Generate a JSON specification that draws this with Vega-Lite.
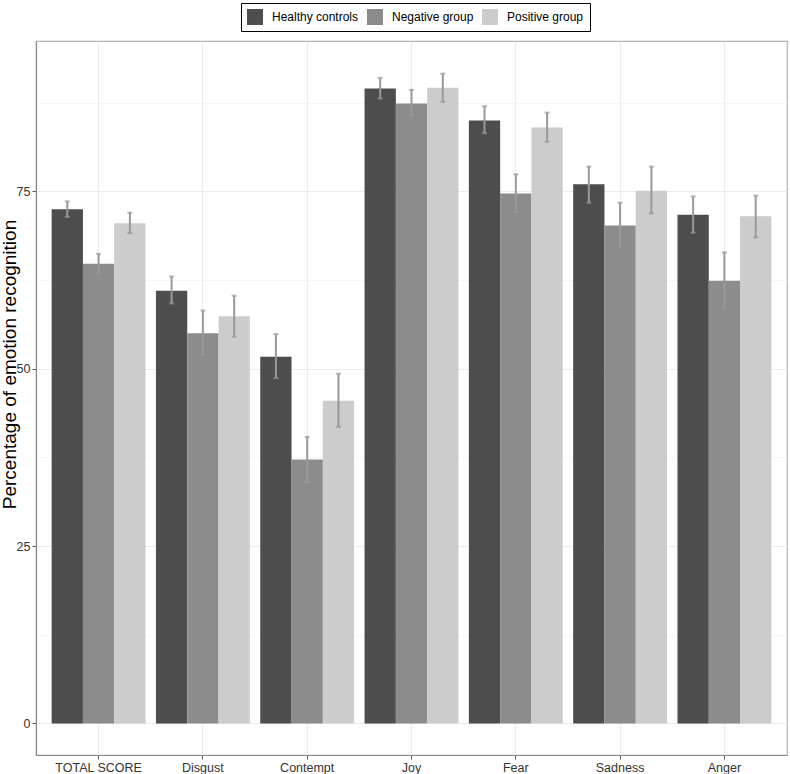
{
  "$schema": "https://vega.github.io/schema/vega-lite/v6.json",
  "width": 751,
  "height": 714,
  "autosize": {"type": "none"},
  "padding": {"left": 36, "top": 41, "right": 3, "bottom": 19},
  "background": "white",
  "config": {
    "font": "Liberation Sans",
    "view": {"stroke": "#b3b3b3", "strokeWidth": 1.2}
  },
  "data": {
    "values": [
      {"emotion": "TOTAL SCORE", "group": "Healthy controls", "mean": 72.5, "lo": 71.4, "hi": 73.6},
      {"emotion": "TOTAL SCORE", "group": "Negative group", "mean": 64.8, "lo": 63.4, "hi": 66.2},
      {"emotion": "TOTAL SCORE", "group": "Positive group", "mean": 70.5, "lo": 69.1, "hi": 72.0},
      {"emotion": "Disgust", "group": "Healthy controls", "mean": 61.0, "lo": 59.2, "hi": 63.0},
      {"emotion": "Disgust", "group": "Negative group", "mean": 55.0, "lo": 51.9, "hi": 58.2},
      {"emotion": "Disgust", "group": "Positive group", "mean": 57.4, "lo": 54.5, "hi": 60.3},
      {"emotion": "Contempt", "group": "Healthy controls", "mean": 51.7, "lo": 48.7, "hi": 54.9},
      {"emotion": "Contempt", "group": "Negative group", "mean": 37.2, "lo": 34.0, "hi": 40.4},
      {"emotion": "Contempt", "group": "Positive group", "mean": 45.5, "lo": 41.8, "hi": 49.3},
      {"emotion": "Joy", "group": "Healthy controls", "mean": 89.5, "lo": 88.1, "hi": 91.0},
      {"emotion": "Joy", "group": "Negative group", "mean": 87.4, "lo": 85.7, "hi": 89.3},
      {"emotion": "Joy", "group": "Positive group", "mean": 89.6, "lo": 87.6, "hi": 91.6},
      {"emotion": "Fear", "group": "Healthy controls", "mean": 85.0, "lo": 83.2, "hi": 87.0},
      {"emotion": "Fear", "group": "Negative group", "mean": 74.7, "lo": 72.1, "hi": 77.4},
      {"emotion": "Fear", "group": "Positive group", "mean": 84.0, "lo": 82.0, "hi": 86.1},
      {"emotion": "Sadness", "group": "Healthy controls", "mean": 76.0, "lo": 73.4, "hi": 78.5},
      {"emotion": "Sadness", "group": "Negative group", "mean": 70.2, "lo": 67.2, "hi": 73.4},
      {"emotion": "Sadness", "group": "Positive group", "mean": 75.1, "lo": 71.9, "hi": 78.5},
      {"emotion": "Anger", "group": "Healthy controls", "mean": 71.7, "lo": 69.2, "hi": 74.3},
      {"emotion": "Anger", "group": "Negative group", "mean": 62.4, "lo": 58.6, "hi": 66.4},
      {"emotion": "Anger", "group": "Positive group", "mean": 71.5, "lo": 68.5, "hi": 74.4}
    ]
  },
  "encoding": {
    "x": {
      "field": "emotion",
      "type": "nominal",
      "sort": ["TOTAL SCORE", "Disgust", "Contempt", "Joy", "Fear", "Sadness", "Anger"],
      "scale": {"paddingInner": 0.1, "paddingOuter": 0.15},
      "axis": {
        "title": null,
        "labelAngle": 0,
        "labelFontSize": 12.5,
        "labelColor": "#333333",
        "labelPadding": 2,
        "tickSize": 4,
        "tickColor": "#555555",
        "domainColor": "#8a8a8a",
        "domainWidth": 1.2,
        "grid": true,
        "gridColor": "#ebebeb",
        "gridWidth": 1.1,
        "bandPosition": 0.5
      }
    },
    "xOffset": {
      "field": "group",
      "type": "nominal",
      "sort": ["Healthy controls", "Negative group", "Positive group"],
      "scale": {"paddingInner": 0, "paddingOuter": 0}
    }
  },
  "layer": [
    {
      "mark": {"type": "bar"},
      "encoding": {
        "y": {
          "field": "mean",
          "type": "quantitative",
          "scale": {"domain": [-4.45, 96.2], "nice": false, "zero": false},
          "axis": {
            "title": "Percentage of emotion recognition",
            "titleFontSize": 19,
            "titleFontWeight": "normal",
            "titleColor": "#000000",
            "titleX": -17,
            "titleY": 323,
            "titleAngle": 270,
            "titleAlign": "center",
            "titleBaseline": "bottom",
            "values": [0, 25, 50, 75],
            "labelFontSize": 12.5,
            "labelColor": "#333333",
            "labelPadding": 2,
            "tickSize": 4,
            "tickColor": "#555555",
            "domainColor": "#8a8a8a",
            "domainWidth": 1.2,
            "grid": true,
            "gridColor": "#ebebeb",
            "gridWidth": 1.1
          }
        },
        "y2": {"datum": 0},
        "color": {
          "field": "group",
          "type": "nominal",
          "sort": ["Healthy controls", "Negative group", "Positive group"],
          "scale": {"range": ["#4d4d4d", "#8c8c8c", "#cccccc"]},
          "legend": {
            "title": null,
            "orient": "none",
            "legendX": 205,
            "legendY": -38,
            "direction": "horizontal",
            "symbolType": "square",
            "symbolSize": 256,
            "symbolStrokeWidth": 0,
            "labelFontSize": 12,
            "labelColor": "#000000",
            "labelOffset": 9,
            "columnPadding": 8,
            "padding": 6,
            "strokeColor": "#000000",
            "fillColor": "white"
          }
        }
      }
    },
    {
      "mark": {"type": "rule", "color": "#999999", "strokeWidth": 2},
      "encoding": {
        "y": {"field": "lo", "type": "quantitative", "axis": null},
        "y2": {"field": "hi"}
      }
    },
    {
      "mark": {"type": "tick", "color": "#999999", "orient": "horizontal", "size": 5, "thickness": 2},
      "encoding": {
        "y": {"field": "hi", "type": "quantitative", "axis": null}
      }
    },
    {
      "mark": {"type": "tick", "color": "#999999", "orient": "horizontal", "size": 5, "thickness": 2},
      "encoding": {
        "y": {
          "field": "lo",
          "type": "quantitative",
          "axis": {
            "orient": "left",
            "title": null,
            "values": [12.5, 37.5, 62.5, 87.5],
            "labels": false,
            "ticks": false,
            "domain": false,
            "grid": true,
            "gridColor": "#f2f2f2",
            "gridWidth": 0.6
          }
        }
      }
    }
  ],
  "resolve": {"axis": {"y": "independent"}}
}
